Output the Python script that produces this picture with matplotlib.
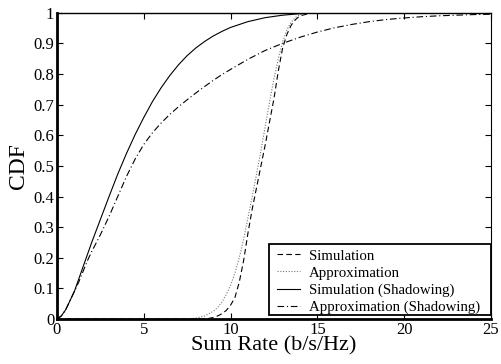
import matplotlib
matplotlib.use("Agg")
import matplotlib.pyplot as plt
from matplotlib.patches import Rectangle

plt.rcParams['font.family'] = ['Liberation Serif', 'DejaVu Serif']

# Simulation (no shadowing) - dashed
sim_x = [0, 8.5, 8.75, 9, 9.25, 9.5, 9.75, 10, 10.25, 10.5, 10.75, 11, 11.25, 11.5, 11.75, 12,
         12.25, 12.5, 12.75, 13, 13.25, 13.5, 13.75, 14, 14.5, 15, 25]
sim_y = [0, 0, 0.002, 0.005, 0.01, 0.017, 0.028, 0.045, 0.07, 0.12, 0.19, 0.28, 0.36, 0.43, 0.50,
         0.57, 0.645, 0.72, 0.81, 0.885, 0.93, 0.96, 0.978, 0.99, 0.997, 1.0, 1.0]

# Approximation (no shadowing) - dotted
app_x = [0, 7.5, 8, 8.5, 9, 9.25, 9.5, 9.75, 10, 10.25, 10.5, 10.75, 11, 11.25, 11.5, 11.75, 12,
         12.25, 12.5, 12.75, 13, 13.25, 13.5, 13.75, 14, 14.5, 25]
app_y = [0, 0, 0.003, 0.01, 0.025, 0.037, 0.055, 0.08, 0.11, 0.15, 0.2, 0.26, 0.33, 0.40, 0.475,
         0.55, 0.63, 0.71, 0.785, 0.85, 0.905, 0.945, 0.97, 0.985, 0.994, 1.0, 1.0]

# Simulation (Shadowing) - solid
ssh_x = [0, 0.25, 0.5, 0.75, 1, 1.25, 1.5, 1.75, 2, 2.5, 3, 3.5, 4, 4.5, 5, 5.5, 6, 6.5, 7, 7.5,
         8, 8.5, 9, 9.5, 10, 11, 12, 13, 14, 15, 16, 25]
ssh_y = [0, 0.01, 0.03, 0.06, 0.09, 0.13, 0.17, 0.21, 0.25, 0.325, 0.40, 0.473, 0.54, 0.602,
         0.658, 0.71, 0.755, 0.795, 0.83, 0.86, 0.885, 0.906, 0.924, 0.939, 0.952, 0.971, 0.984,
         0.992, 0.997, 0.999, 1.0, 1.0]

# Approximation (Shadowing) - dash-dot
ash_x = [0, 0.25, 0.5, 0.75, 1, 1.25, 1.5, 1.75, 2, 2.5, 3, 3.5, 4, 4.5, 5, 5.5, 6, 6.5, 7, 7.5,
         8, 8.5, 9, 9.5, 10, 11, 12, 13, 14, 15, 16, 17, 18, 19, 20, 21, 22, 23, 24, 25]
ash_y = [0, 0.01, 0.03, 0.06, 0.09, 0.12, 0.155, 0.19, 0.22, 0.275, 0.335, 0.40, 0.465, 0.522,
         0.57, 0.608, 0.64, 0.668, 0.693, 0.716, 0.738, 0.759, 0.779, 0.798, 0.815, 0.848, 0.877,
         0.9, 0.92, 0.937, 0.951, 0.962, 0.971, 0.978, 0.983, 0.987, 0.99, 0.992, 0.994, 0.995]

labels = ['Simulation', 'Approximation', 'Simulation (Shadowing)', 'Approximation (Shadowing)']
xticks = [0, 5, 10, 15, 20, 25]
yticks = [0, 0.1, 0.2, 0.3, 0.4, 0.5, 0.6, 0.7, 0.8, 0.9, 1]
yticklabels = ['0', '0.1', '0.2', '0.3', '0.4', '0.5', '0.6', '0.7', '0.8', '0.9', '1']

fig = plt.figure(figsize=(5.02, 3.64), dpi=100)
ax = fig.add_axes([0.1135, 0.1236, 0.8645, 0.8414])

lw = 0.8
ax.plot(sim_x, sim_y, color='black', linestyle=(0, (5, 3)), lw=lw, label=labels[0])
ax.plot(app_x, app_y, color='#777777', linestyle=(0, (1, 1.5)), lw=lw, label=labels[1])
ax.plot(ssh_x, ssh_y, color='black', linestyle='-', lw=lw, label=labels[2])
ax.plot(ash_x, ash_y, color='black', linestyle=(0, (6, 2.5, 1, 2.5)), lw=lw, label=labels[3])

ax.set_xlim(0, 25)
ax.set_ylim(0, 1)
ax.set_xticks(xticks)
ax.set_xticklabels([str(t) for t in xticks])
ax.set_yticks(yticks)
ax.set_yticklabels(yticklabels)
ax.tick_params(direction='in', top=True, right=True, labelsize=12, length=4, width=0.8, pad=2)

ax.spines['left'].set_linewidth(2.0)
ax.spines['bottom'].set_linewidth(2.0)
ax.spines['top'].set_linewidth(1.0)
ax.spines['right'].set_linewidth(0.8)

ax.set_xlabel('Sum Rate (b/s/Hz)', fontsize=16, labelpad=-1)
ax.set_ylabel('CDF', fontsize=17, labelpad=3)

# legend frame drawn separately (wider horizontal padding than vertical)
frame = Rectangle((0.4885, 0.013), 1.0 - 0.4885, 0.245 - 0.013, transform=ax.transAxes,
                  facecolor='white', edgecolor='black', linewidth=1.3, zorder=4)
ax.add_patch(frame)
leg = ax.legend(loc='upper left', bbox_to_anchor=(0.507, 0.228), borderaxespad=0,
                fontsize=10.7, handlelength=1.55, handletextpad=0.6, labelspacing=0.25,
                borderpad=0, frameon=False)
leg.set_zorder(5)

fig.savefig('out.png', dpi=100)
